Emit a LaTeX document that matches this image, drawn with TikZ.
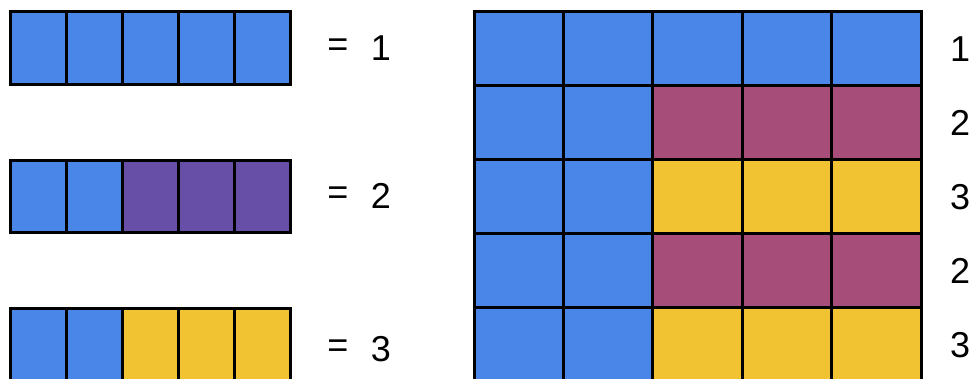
\documentclass[tikz,border=0pt]{standalone}
\usepackage{fontspec}
\setmainfont{Liberation Sans}
\definecolor{cblue}{HTML}{4A86E8}
\definecolor{cpurple}{HTML}{674EA7}
\definecolor{cmagenta}{HTML}{A64D79}
\definecolor{cyellow}{HTML}{F1C232}
\tikzset{
  cell/.style={draw=black, line width=3pt},
  lbl/.style={font=\fontsize{36}{40}\selectfont, inner sep=0pt}
}
\begin{document}
\begin{tikzpicture}[x=1pt,y=-1pt]
\useasboundingbox (0,0) rectangle (971,379);
% left rows
\foreach \row/\ya/\yb/\ca/\cb in {1/11.5/84.5/cblue/cblue, 2/160.5/232.5/cblue/cpurple, 3/308.5/385/cblue/cyellow}{
  \foreach \i in {0,...,4}{
    \pgfmathsetmacro{\xa}{10.5+56*\i}
    \pgfmathsetmacro{\xb}{10.5+56*(\i+1)}
    \ifnum\i<2
      \fill[\ca] (\xa,\ya) rectangle (\xb,\yb);
    \else
      \fill[\cb] (\xa,\ya) rectangle (\xb,\yb);
    \fi
  }
  \foreach \i in {0,...,4}{
    \pgfmathsetmacro{\xa}{10.5+56*\i}
    \pgfmathsetmacro{\xb}{10.5+56*(\i+1)}
    \draw[cell] (\xa,\ya) rectangle (\xb,\yb);
  }
}
% right grid
\foreach \r/\ya/\yb/\cb in {0/11.5/85.5/cblue, 1/85.5/159.5/cmagenta, 2/159.5/233.5/cyellow, 3/233.5/307.5/cmagenta, 4/307.5/381.5/cyellow}{
  \foreach \i in {0,...,4}{
    \pgfmathsetmacro{\xa}{474+89.4*\i}
    \pgfmathsetmacro{\xb}{474+89.4*(\i+1)}
    \ifnum\i<2
      \fill[cblue] (\xa,\ya) rectangle (\xb,\yb);
    \else
      \fill[\cb] (\xa,\ya) rectangle (\xb,\yb);
    \fi
  }
}
\foreach \r/\ya/\yb in {0/11.5/85.5, 1/85.5/159.5, 2/159.5/233.5, 3/233.5/307.5, 4/307.5/381.5}{
  \foreach \i in {0,...,4}{
    \pgfmathsetmacro{\xa}{474+89.4*\i}
    \pgfmathsetmacro{\xb}{474+89.4*(\i+1)}
    \draw[cell] (\xa,\ya) rectangle (\xb,\yb);
  }
}
% left labels
\node[lbl] (eq1) at (338,48) {=};
\node[lbl] (n1) at (381,48) {1};
\node[lbl] (eq2) at (338,196) {=};
\node[lbl] (n2) at (381,196) {2};
\node[lbl] (eq3) at (338,349) {=};
\node[lbl] (n3) at (381,349) {3};
% right labels
\node[lbl, anchor=west] (r1) at (950,49) {1};
\node[lbl, anchor=west] (r2) at (950,123) {2};
\node[lbl, anchor=west] (r3) at (950,197) {3};
\node[lbl, anchor=west] (r4) at (950,271) {2};
\node[lbl, anchor=west] (r5) at (950,345) {3};
\end{tikzpicture}
\end{document}
